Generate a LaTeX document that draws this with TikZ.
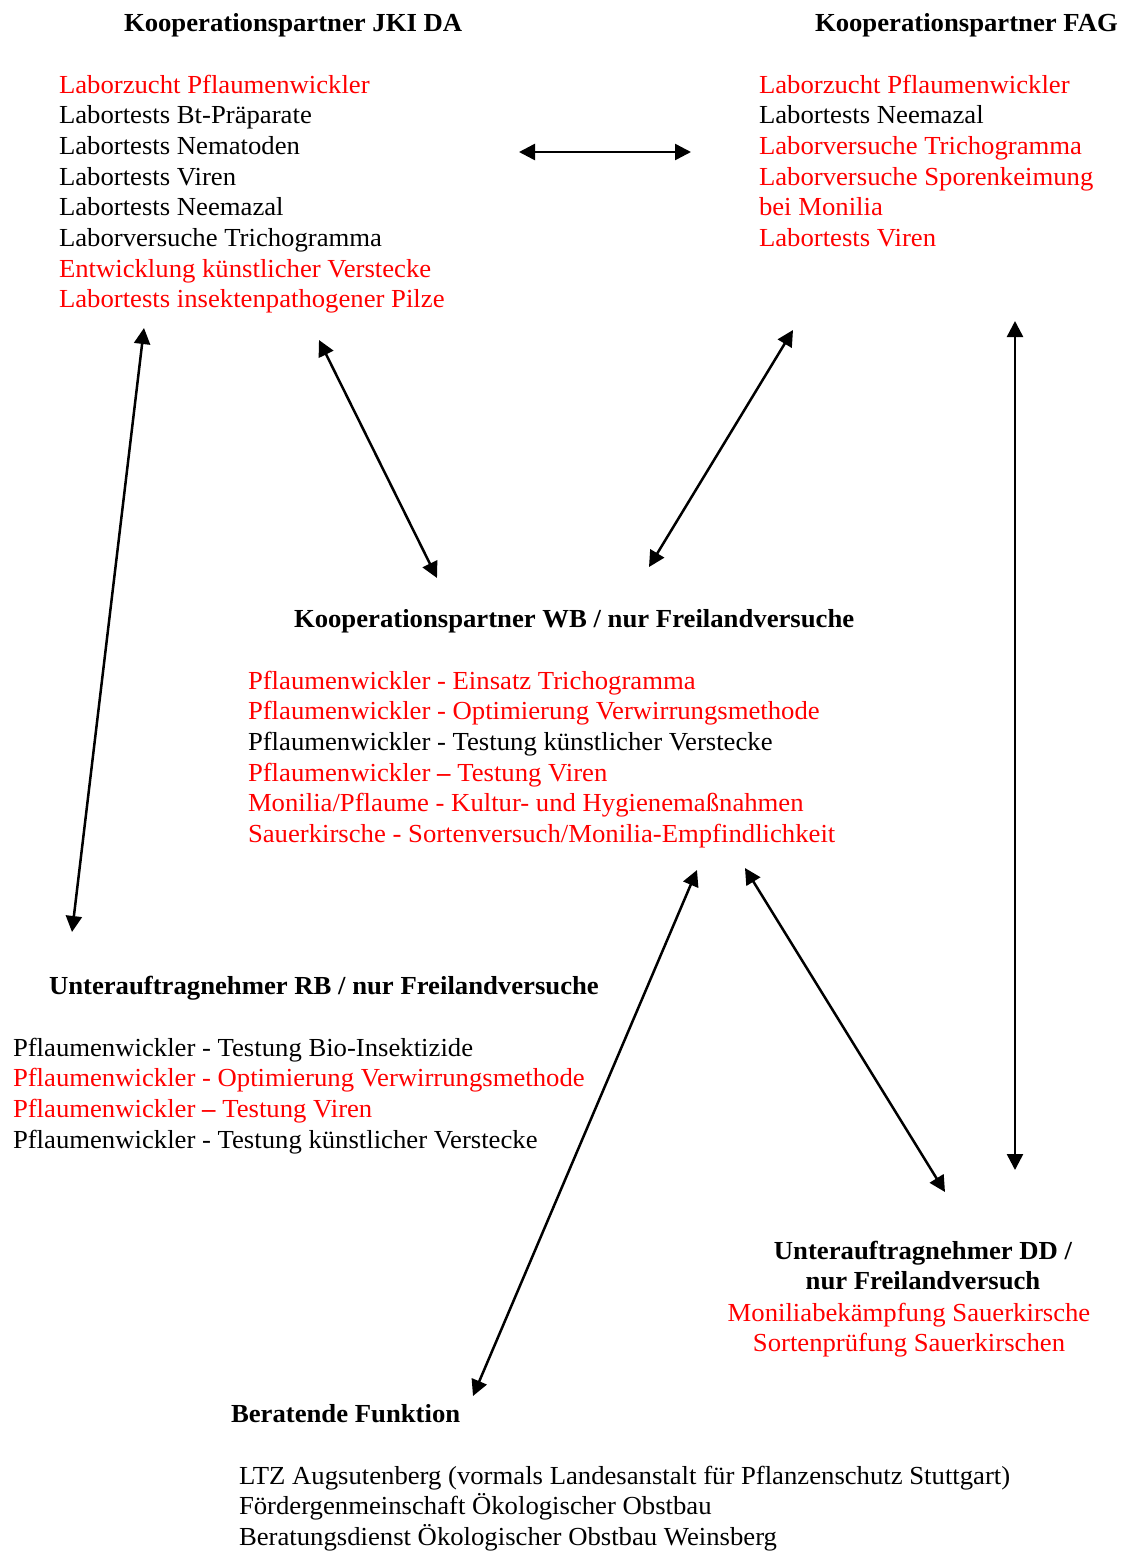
\documentclass[tikz,border=0pt]{standalone}
\usepackage{fontspec}
\setmainfont[FakeStretch=1.027]{Liberation Serif}
\usetikzlibrary{arrows.meta}
\definecolor{hl}{RGB}{255,0,0}
\newcommand{\fs}{\rule{0pt}{20pt}}
\begin{document}
\begin{tikzpicture}[x=1pt,y=-1pt,
  blk/.style={inner sep=0pt, outer sep=0pt, font=\fontsize{26}{30.7}\selectfont},
  ttl/.style={blk, font=\fontsize{26}{30.7}\selectfont\bfseries},
  lst/.style={blk, align=left, anchor=north west},
  conn/.style={line width=2.5pt,
    {Triangle[length=16pt,width=16pt]}-{Triangle[length=16pt,width=16pt]}}]
\useasboundingbox (0,0) rectangle (1123,1551);

% --- JKI DA ---
\node[ttl, anchor=north west] (jkiT) at (124,11) {\fs Kooperationspartner JKI DA};
\node[lst] (jkiL) at (59,73) {\fs\color{hl}Laborzucht Pflaumenwickler\\
  Labortests Bt-Präparate\\
  Labortests Nematoden\\
  Labortests Viren\\
  Labortests Neemazal\\
  Laborversuche Trichogramma\\
  \color{hl}Entwicklung künstlicher Verstecke\\
  \color{hl}Labortests insektenpathogener Pilze};

% --- FAG ---
\node[ttl, anchor=north west] (fagT) at (815,11) {\fs Kooperationspartner FAG};
\node[lst] (fagL) at (759,73) {\fs\color{hl}Laborzucht Pflaumenwickler\\
  Labortests Neemazal\\
  \color{hl}Laborversuche Trichogramma\\
  \color{hl}Laborversuche Sporenkeimung\\
  \color{hl}bei Monilia\\
  \color{hl}Labortests Viren};

% --- WB ---
\node[ttl, anchor=north west] (wbT) at (294,607) {\fs Kooperationspartner WB / nur Freilandversuche};
\node[lst] (wbL) at (248,669) {\fs\color{hl}Pflaumenwickler - Einsatz Trichogramma\\
  \color{hl}Pflaumenwickler - Optimierung Verwirrungsmethode\\
  Pflaumenwickler - Testung künstlicher Verstecke\\
  \color{hl}Pflaumenwickler \textbf{–} Testung Viren\\
  \color{hl}Monilia/Pflaume - Kultur- und Hygienemaßnahmen\\
  \color{hl}Sauerkirsche - Sortenversuch/Monilia-Empfindlichkeit};

% --- RB ---
\node[ttl, anchor=north west] (rbT) at (49,974) {\fs Unterauftragnehmer RB / nur Freilandversuche};
\node[lst] (rbL) at (13,1036) {\fs Pflaumenwickler - Testung Bio-Insektizide\\
  \color{hl}Pflaumenwickler - Optimierung Verwirrungsmethode\\
  \color{hl}Pflaumenwickler \textbf{–} Testung Viren\\
  Pflaumenwickler - Testung künstlicher Verstecke};

% --- DD ---
\node[ttl, align=center, anchor=north] (ddT) at (923,1239) {\fs Unterauftragnehmer DD /\\nur Freilandversuch};
\node[blk, align=center, anchor=north, text=hl] (ddL) at (909,1301) {\fs Moniliabekämpfung Sauerkirsche\\Sortenprüfung Sauerkirschen};

% --- Beratung ---
\node[ttl, anchor=north west] (berT) at (231,1402) {\fs Beratende Funktion};
\node[lst] (berL) at (239,1464) {\fs LTZ Augsutenberg (vormals Landesanstalt für Pflanzenschutz Stuttgart)\\
  Fördergenmeinschaft Ökologischer Obstbau\\
  Beratungsdienst Ökologischer Obstbau Weinsberg};

% --- connector ends ---
\coordinate (jkiE) at (519,152);
\coordinate (fagW) at (691,152);
\coordinate (jkiSW) at (144,328);
\coordinate (rbN) at (72,932);
\coordinate (jkiS) at (319,340);
\coordinate (wbNW) at (437,578);
\coordinate (fagSW) at (793,330);
\coordinate (wbNE) at (649,567);
\coordinate (fagS) at (1015,321);
\coordinate (ddNE) at (1015,1170);
\coordinate (wbS) at (697,870);
\coordinate (berN) at (473,1396);
\coordinate (wbSE) at (745,868);
\coordinate (ddN) at (945,1192);

\draw[conn] (jkiE) -- (fagW);
\draw[conn] (jkiSW) -- (rbN);
\draw[conn] (jkiS) -- (wbNW);
\draw[conn] (fagSW) -- (wbNE);
\draw[conn] (fagS) -- (ddNE);
\draw[conn] (wbS) -- (berN);
\draw[conn] (wbSE) -- (ddN);
\end{tikzpicture}
\end{document}
